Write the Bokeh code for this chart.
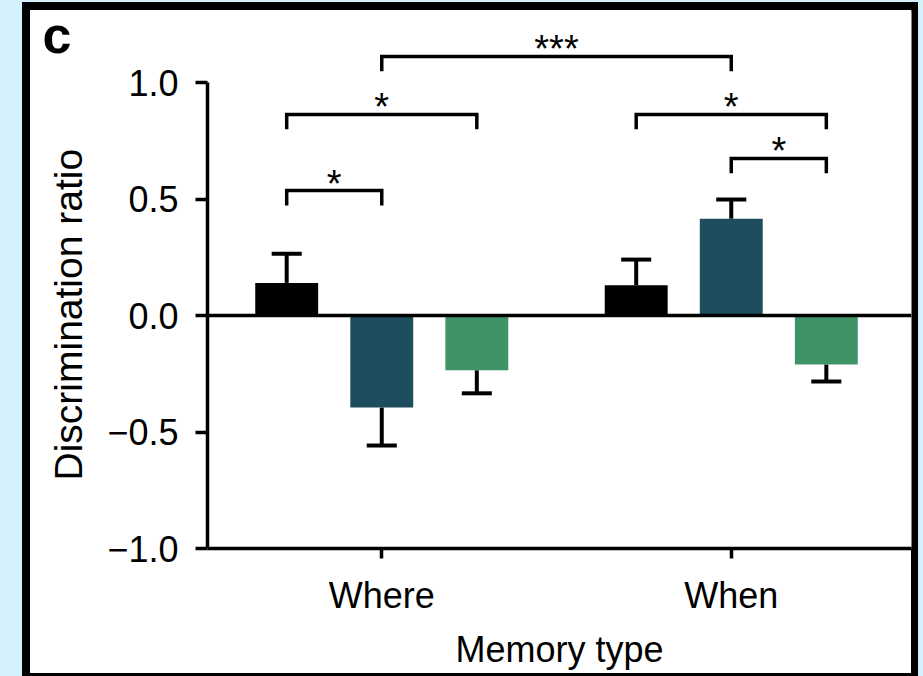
from bokeh.plotting import figure
from bokeh.models import (Range1d, FixedTicker, CustomJSTickFormatter, Span,
                          Label, Title)
from bokeh.core.properties import value
from bokeh.embed import file_html
from bokeh.resources import INLINE

# ---------------- data ----------------
memory_types = ["Where", "When"]
conditions = ["Condition 1", "Condition 2", "Condition 3"]
bar_colors = ["#000000", "#1e4d5e", "#3f9467"]
where_means = [0.14, -0.395, -0.235]
where_sems = [0.125, 0.163, 0.099]
when_means = [0.13, 0.415, -0.21]
when_sems = [0.11, 0.083, 0.073]
y_ticks = [-1.0, -0.5, 0.0, 0.5, 1.0]

# significance brackets: (group, bar) -> (group, bar)
bracket_group_a = [0, 0, 0, 1, 1]
bracket_bar_a = [0, 0, 1, 0, 1]
bracket_group_b = [0, 0, 1, 1, 1]
bracket_bar_b = [1, 2, 1, 2, 2]
bracket_levels = [0.536, 0.863, 1.112, 0.863, 0.674]
bracket_labels = ["*", "*", "***", "*", "*"]

panel_letter = "c"
x_label = "Memory type"
y_label = "Discrimination ratio"

# ---------------- layout constants ----------------
FONT = "Liberation Sans"
W, H = 923, 676
FL, FR, FT, FB = 206, 911, 10, 548        # frame edges in page pixels
X0, X1 = 0.5014, 2.5157
Y0 = -1.0
PX_PER_Y = 233.0
Y1 = Y0 + (FB - FT) / PX_PER_Y
group_x = [1.0, 2.0]
offsets = [-0.272, 0.0, 0.272]
bar_w = 0.18
cap_half = 0.043
leg = 0.064

p = figure(width=W, height=H,
           x_range=Range1d(X0, X1), y_range=Range1d(Y0, Y1),
           output_backend="svg", toolbar_location=None,
           min_border_left=FL, min_border_right=W - FR, min_border_top=FT,
           min_border_bottom=H - FB,
           border_fill_color=None, background_fill_color="white",
           outline_line_color=None)

# page decoration behind the canvas: light-blue surround, white panel, black frame
BLUE = "#d4f1fc"
p.styles = {"background": (
    "linear-gradient(#000,#000) 22px 2px / 8px 674px no-repeat, "
    "linear-gradient(#000,#000) 22px 2px / 896px 8px no-repeat, "
    "linear-gradient(#000,#000) 911px 2px / 7px 674px no-repeat, "
    "linear-gradient(#000,#000) 22px 673px / 896px 3px no-repeat, "
    "linear-gradient(#fff,#fff) 22px 2px / 896px 674px no-repeat, "
    + BLUE)}

# bars
all_means = [where_means, when_means]
all_sems = [where_sems, when_sems]
bx, btop, bcol = [], [], []
sx0, sy0, sx1, sy1 = [], [], [], []
for g in range(2):
    for i in range(3):
        x = group_x[g] + offsets[i]
        m = all_means[g][i]
        s = all_sems[g][i]
        bx.append(x)
        btop.append(m)
        bcol.append(bar_colors[i])
        end = m + s if m >= 0 else m - s
        sx0.append(x); sy0.append(m); sx1.append(x); sy1.append(end)
        sx0.append(x - cap_half); sy0.append(end); sx1.append(x + cap_half); sy1.append(end)

p.segment(x0=sx0, y0=sy0, x1=sx1, y1=sy1, line_color="black", line_width=4)
p.vbar(x=bx, width=bar_w, top=btop, bottom=0, fill_color=bcol, line_color=None)

# zero line
p.add_layout(Span(location=0, dimension="width", line_color="black", line_width=3.5))

# brackets
xs, ys, tx, ty = [], [], [], []
for k in range(len(bracket_levels)):
    xa = group_x[bracket_group_a[k]] + offsets[bracket_bar_a[k]]
    xb = group_x[bracket_group_b[k]] + offsets[bracket_bar_b[k]]
    lv = bracket_levels[k]
    xs.append([xa, xa, xb, xb])
    ys.append([lv - leg, lv, lv, lv - leg])
    tx.append((xa + xb) / 2)
    ty.append(lv)
p.multi_line(xs=xs, ys=ys, line_color="black", line_width=3.5, line_join="miter")
p.text(x=tx, y=ty, text=bracket_labels, text_font=value(FONT),
       text_font_size="38px", text_align="center", text_baseline="alphabetic",
       text_color="black", y_offset=-7)

# axes
p.xgrid.visible = False
p.ygrid.visible = False

ya = p.yaxis[0]
ya.bounds = (-1.0, 1.0)
ya.ticker = FixedTicker(ticks=y_ticks)
ya.formatter = CustomJSTickFormatter(code="""
return (tick < 0 ? "\u2212" : "") + Math.abs(tick).toFixed(1);
""")
ya.axis_line_width = 3.5
ya.major_tick_line_width = 3.5
ya.major_tick_out = 12
ya.major_tick_in = 0
ya.minor_tick_line_color = None
ya.major_label_text_font = FONT
ya.major_label_text_font_size = "36px"
ya.major_label_text_color = "black"
ya.major_label_standoff = 17

# y-axis title, positioned along the -1..1 axis span
ytitle = Title(text=y_label, align="left", offset=68, standoff=30,
               text_font=FONT, text_font_size="39px", text_font_style="normal",
               text_color="black")
p.add_layout(ytitle, "left")

xa_ = p.xaxis[0]
xa_.ticker = FixedTicker(ticks=group_x)
xa_.formatter = CustomJSTickFormatter(args=dict(labels=memory_types), code="""
const i = Math.round(tick) - 1;
return (i >= 0 && i < labels.length) ? labels[i] : "";
""")
xa_.axis_line_width = 3.5
xa_.major_tick_line_width = 3.5
xa_.major_tick_out = 10
xa_.major_tick_in = 0
xa_.minor_tick_line_color = None
xa_.major_label_text_font = FONT
xa_.major_label_text_font_size = "36px"
xa_.major_label_text_color = "black"
xa_.major_label_standoff = 16
xa_.axis_label = x_label
xa_.axis_label_text_font = FONT
xa_.axis_label_text_font_size = "36px"
xa_.axis_label_text_font_style = "normal"
xa_.axis_label_text_color = "black"
xa_.axis_label_standoff = 10

# panel letter (placed in the left side panel so it is not clipped to the frame)
p.add_layout(Label(x=42, y=34, x_units="canvas", y_units="canvas", text=panel_letter,
                   text_font=FONT, text_font_style="bold", text_font_size="52px",
                   text_baseline="alphabetic", text_color="black"), "left")

open("out.html", "w").write(file_html(p, INLINE))
